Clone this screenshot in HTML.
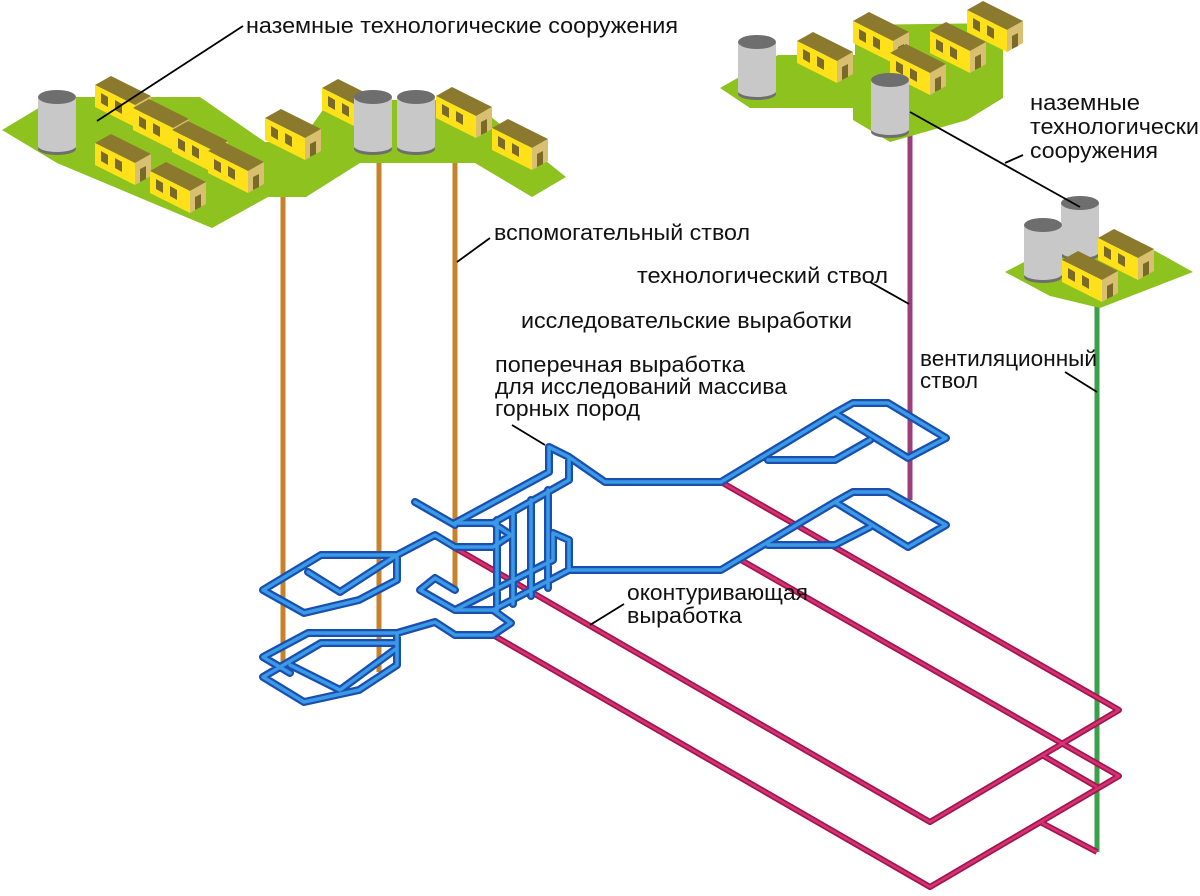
<!DOCTYPE html>
<html><head><meta charset="utf-8"><style>html,body{margin:0;padding:0;background:#fff}svg{display:block}text{font-family:"Liberation Sans",sans-serif;font-size:22px;fill:#111}</style></head><body>
<svg width="1200" height="896" viewBox="0 0 1200 896" xmlns="http://www.w3.org/2000/svg">
<defs>
<g id="h">
<polygon points="0,-22 40,-2 56,-11 16,-31" fill="#8b7a2e"/>
<polygon points="0,0 40,20 40,-2 0,-22" fill="#ffe11a"/>
<polygon points="40,20 56,11 56,-11 40,-2" fill="#d8c070"/>
<polygon points="6,-4 13,0 13,-10 6,-14" fill="#7a6a2a"/>
<polygon points="20,3 27,7 27,-3 20,-7" fill="#7a6a2a"/>
<polygon points="45,17 51,14 51,1 45,4" fill="#7a6a2a"/>
</g>
<g id="c">
<ellipse cx="0" cy="52" rx="19" ry="6" fill="#6e6e6e"/>
<rect x="-19" y="0" width="38" height="50" fill="#c8c8c8"/>
<ellipse cx="0" cy="49" rx="19" ry="6" fill="#c8c8c8"/>
<ellipse cx="0" cy="0" rx="19" ry="7" fill="#6e6e6e"/>
</g>
</defs>

<g stroke-width="5" fill="none">
<line x1="283" y1="185" x2="283" y2="665" stroke="#c8822a"/>
<line x1="379" y1="160" x2="379" y2="672" stroke="#c8822a"/>
<line x1="455" y1="160" x2="455" y2="590" stroke="#c8822a"/>
<line x1="910" y1="125" x2="910" y2="500" stroke="#9b3f7a"/>
<line x1="1097" y1="300" x2="1097" y2="852" stroke="#3aa04a"/>
</g>

<polygon points="2,130 57,97 200,97 265,142 300,142 330,100 470,100 566,177 532,197 475,163 360,163 306,197 268,197 212,228 57,163" fill="#8dc21f"/>
<polygon points="720,88 778,55 855,55 855,25 1003,23 1003,98 967,120 890,142 853,120 853,108 750,108" fill="#8dc21f"/>
<polygon points="1005,272 1070,238 1150,248 1193,272 1100,308 1050,296" fill="#8dc21f"/>

<use href="#c" x="57" y="97"/>
<use href="#h" x="95" y="107"/>
<use href="#h" x="133" y="130"/>
<use href="#h" x="95" y="165"/>
<use href="#h" x="172" y="152"/>
<use href="#h" x="265" y="140"/>
<use href="#h" x="208" y="173"/>
<use href="#h" x="150" y="193"/>
<use href="#h" x="322" y="110"/>
<use href="#c" x="373" y="97"/>
<use href="#c" x="416" y="97"/>
<use href="#h" x="436" y="118"/>
<use href="#h" x="492" y="150"/>
<use href="#c" x="757" y="42"/>
<use href="#h" x="967" y="32"/>
<use href="#h" x="930" y="53"/>
<use href="#h" x="853" y="43"/>
<use href="#h" x="797" y="63"/>
<use href="#h" x="890" y="75"/>
<use href="#c" x="890" y="80"/>
<use href="#c" x="1080" y="203"/>
<use href="#c" x="1043" y="225"/>
<use href="#h" x="1098" y="260"/>
<use href="#h" x="1062" y="282"/>

<g fill="none" stroke-linejoin="round">
<g stroke="#a01848" stroke-width="6">
<polyline points="721,482 1119,710 930,822 455,548"/>
<polyline points="741,560 1119,776 930,887 493,635"/>
<line x1="1042" y1="755" x2="1097" y2="787"/>
<line x1="1042" y1="823" x2="1097" y2="852"/>
</g>
<g stroke="#d8307a" stroke-width="2.5">
<polyline points="721,482 1119,710 930,822 455,548"/>
<polyline points="741,560 1119,776 930,887 493,635"/>
<line x1="1042" y1="755" x2="1097" y2="787"/>
<line x1="1042" y1="823" x2="1097" y2="852"/>
</g>
</g>

<g fill="none" stroke-linejoin="round" stroke-linecap="round">
<path id="bp" d="M549,472 L549,447 L569,457 L605,482 L721,482 L835,413 L853,403 L888,403 L946,438 L908,458 L835,413 M768,460 L835,460 L870,440
M553,533 L553,560 M569,458 L569,480 M569,540 L569,570 L605,570 L721,570 L835,502 L853,492 L888,492 L946,525 L908,547 L835,502 M768,545 L835,545 L870,527
M553,533 L569,540
M549,472 L455,523 M569,480 L493,523 M553,560 L455,610 M569,570 L493,610
M497,520 L497,610 M513,512 L513,604 M531,500 L531,596 M548,490 L548,588
M415,502 L455,525 M455,523 L493,523 L511,535 L493,547 L455,547 L435,535 L397,555 L321,555 L263,590 L304,613 L359,600 L397,580 L397,555 M308,572 L340,592 L397,555
M455,590 L435,578 L420,590 L455,610 L493,610 L511,623 L493,635 L455,635 L435,622 L397,633 L308,633 L263,657 L290,673 M397,643 L321,643 L263,677 L304,702 L359,690 L397,665 L397,633 M290,665 L340,690 L397,648"/>
</g>
<use href="#bp" stroke="#1a4fb0" stroke-width="8" fill="none" stroke-linejoin="round" stroke-linecap="round"/>
<use href="#bp" stroke="#3b9ae6" stroke-width="3.5" fill="none" stroke-linejoin="round" stroke-linecap="round"/>

<g stroke="#000" stroke-width="1.8" fill="none">
<line x1="97" y1="121" x2="243" y2="26"/>
<line x1="457" y1="262" x2="490" y2="238"/>
<line x1="870" y1="282" x2="909" y2="304"/>
<line x1="512" y1="425" x2="545" y2="445"/>
<line x1="1065" y1="372" x2="1097" y2="392"/>
<line x1="910" y1="112" x2="1080" y2="207"/>
<line x1="1005" y1="163" x2="1023" y2="155"/>
<line x1="590" y1="625" x2="624" y2="604"/>
</g>

<text x="246" y="33" textLength="432" lengthAdjust="spacingAndGlyphs">наземные технологические сооружения</text>
<text x="494" y="240" textLength="256" lengthAdjust="spacingAndGlyphs">вспомогательный ствол</text>
<text x="637" y="283" textLength="251" lengthAdjust="spacingAndGlyphs">технологический ствол</text>
<text x="521" y="328" textLength="331" lengthAdjust="spacingAndGlyphs">исследовательские выработки</text>
<text x="495" y="372" textLength="250" lengthAdjust="spacingAndGlyphs">поперечная выработка</text>
<text x="495" y="394" textLength="292" lengthAdjust="spacingAndGlyphs">для исследований массива</text>
<text x="495" y="416" textLength="145" lengthAdjust="spacingAndGlyphs">горных пород</text>
<text x="920" y="366" textLength="177" lengthAdjust="spacingAndGlyphs">вентиляционный</text>
<text x="920" y="388" textLength="58" lengthAdjust="spacingAndGlyphs">ствол</text>
<text x="1030" y="110" textLength="110" lengthAdjust="spacingAndGlyphs">наземные</text>
<text x="1030" y="134" textLength="182" lengthAdjust="spacingAndGlyphs">технологические</text>
<text x="1030" y="158" textLength="128" lengthAdjust="spacingAndGlyphs">сооружения</text>
<text x="627" y="600" textLength="181" lengthAdjust="spacingAndGlyphs">оконтуривающая</text>
<text x="627" y="623" textLength="115" lengthAdjust="spacingAndGlyphs">выработка</text>
</svg>
</body></html>
